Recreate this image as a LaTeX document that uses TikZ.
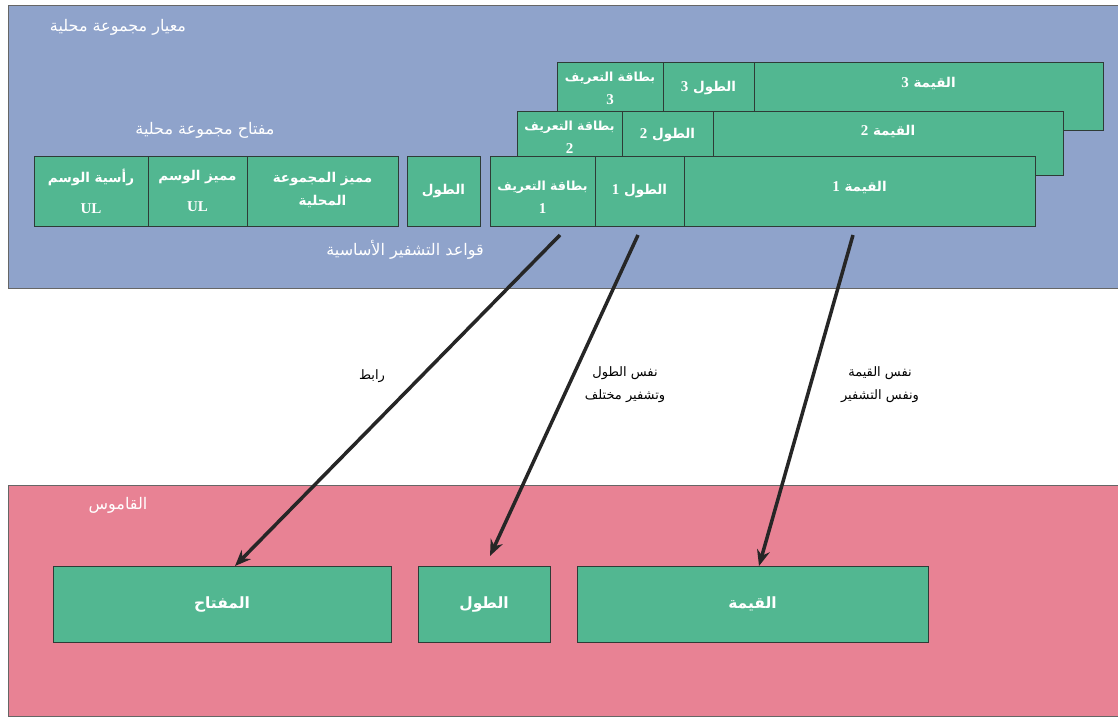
\documentclass[tikz,border=0pt]{standalone}
\usepackage{fontspec}
\setmainfont{Liberation Serif}
\newfontfamily\arabicfont[Script=Arabic]{DejaVu Sans}
\TeXXeTstate=1
\usetikzlibrary{arrows.meta}
\definecolor{bluebg}{HTML}{8FA3CB}
\definecolor{pinkbg}{HTML}{E88294}
\definecolor{cellgreen}{HTML}{52B791}
\definecolor{celledge}{HTML}{2E3B36}
\definecolor{arrowcol}{HTML}{262626}
\newcommand{\nm}[1]{{\rmfamily\bfseries\fontsize{15}{17}\selectfont #1}}
\tikzset{
  cell/.style={draw=celledge, line width=1pt, fill=cellgreen, anchor=north west,
    inner sep=0pt, outer sep=0pt},
  ctext/.style={text=white, inner sep=0pt, align=center, font=\arabicfont\bfseries\fontsize{13.5}{23}\selectfont},
  idtext/.style={ctext, font=\arabicfont\bfseries\fontsize{12.5}{23}\selectfont},
  ctextwide/.style={ctext, font=\arabicfont\bfseries\fontsize{13.5}{31}\selectfont},
  btext/.style={ctext, font=\arabicfont\bfseries\fontsize{15.5}{19}\selectfont},
  region/.style={draw=gray!80!black, line width=0.8pt, anchor=north west, inner sep=0pt, outer sep=0pt},
  wlabel/.style={text=white, font=\arabicfont\fontsize{16}{19}\selectfont, inner sep=0pt},
  blabel/.style={text=black, font=\arabicfont\fontsize{13}{23}\selectfont, align=center, inner sep=0pt},
  arr/.style={line width=3.5pt, draw=arrowcol, -{Stealth[length=16pt,width=13pt]}}
}
\begin{document}
\begin{tikzpicture}[x=1pt,y=-1pt]
\useasboundingbox[fill=white] (0,0) rectangle (1118,718);
% regions
\node[region, fill=bluebg, minimum width=1110pt, minimum height=283pt] (std) at (8,5) {};
\node[region, fill=pinkbg, minimum width=1110pt, minimum height=231pt] (dict) at (8,485) {};
% titles
\node[wlabel] (stdt) at (118,27) {\beginR معيار مجموعة محلية\endR};
\node[wlabel] (keyt) at (205,130) {\beginR مفتاح مجموعة محلية\endR};
\node[wlabel] (rules) at (405,250) {\beginR قواعد التشفير الأساسية\endR};
\node[wlabel] (dictt) at (118,505) {\beginR القاموس\endR};
% row 3
\node[cell, minimum width=106pt, minimum height=68pt,
  label={[idtext, yshift=8pt]center:{\beginR بطاقة التعريف\endR\\\nm{3}}}] (id3) at (557,62) {};
\node[cell, minimum width=91pt, minimum height=68pt,
  label={[ctext, yshift=8pt]center:{\beginR الطول \nm{3}\endR}}] (len3) at (663,62) {};
\node[cell, minimum width=349pt, minimum height=68pt,
  label={[ctext, yshift=13pt]center:{\beginR القيمة \nm{3}\endR}}] (val3) at (754,62) {};
% row 2
\node[cell, minimum width=105pt, minimum height=64pt,
  label={[idtext, yshift=6pt]center:{\beginR بطاقة التعريف\endR\\\nm{2}}}] (id2) at (517,111) {};
\node[cell, minimum width=91pt, minimum height=64pt,
  label={[ctext, yshift=8pt]center:{\beginR الطول \nm{2}\endR}}] (len2) at (622,111) {};
\node[cell, minimum width=350pt, minimum height=64pt,
  label={[ctext, yshift=12pt]center:{\beginR القيمة \nm{2}\endR}}] (val2) at (713,111) {};
% row 1
\node[cell, minimum width=114pt, minimum height=70pt,
  label={[ctextwide]center:{\beginR رأسية الوسم\endR\\\nm{UL}}}] (ulh) at (34,156) {};
\node[cell, minimum width=99pt, minimum height=70pt,
  label={[ctextwide]center:{\beginR مميز الوسم\endR\\\nm{UL}}}] (ulk) at (148,156) {};
\node[cell, minimum width=151pt, minimum height=70pt,
  label={[ctext, yshift=1pt]center:{\beginR مميز المجموعة\endR\\\beginR المحلية\endR}}] (lgk) at (247,156) {};
\node[cell, minimum width=73pt, minimum height=70pt,
  label={[ctext]center:{\beginR الطول\endR}}] (len) at (407,156) {};
\node[cell, minimum width=105pt, minimum height=70pt,
  label={[idtext, yshift=-6pt]center:{\beginR بطاقة التعريف\endR\\\nm{1}}}] (id1) at (490,156) {};
\node[cell, minimum width=89pt, minimum height=70pt,
  label={[ctext]center:{\beginR الطول \nm{1}\endR}}] (len1) at (595,156) {};
\node[cell, minimum width=351pt, minimum height=70pt,
  label={[ctext, yshift=4pt]center:{\beginR القيمة \nm{1}\endR}}] (val1) at (684,156) {};
% dictionary row
\node[cell, minimum width=338pt, minimum height=76pt,
  label={[btext]center:{\beginR المفتاح\endR}}] (dkey) at (53,566) {};
\node[cell, minimum width=132pt, minimum height=76pt,
  label={[btext]center:{\beginR الطول\endR}}] (dlen) at (418,566) {};
\node[cell, minimum width=351pt, minimum height=76pt,
  label={[btext]center:{\beginR القيمة\endR}}] (dval) at (577,566) {};
% arrow ends
\coordinate (a1s) at (560,235);
\coordinate (a1e) at (235,566);
\coordinate (a2s) at (638,235);
\coordinate (a2e) at (490,556);
\coordinate (a3s) at (853,235);
\coordinate (a3e) at (759,566);
\draw[arr] (a1s) -- (a1e);
\draw[arr] (a2s) -- (a2e);
\draw[arr] (a3s) -- (a3e);
% arrow labels
\node[blabel] (l1) at (372,376) {\beginR رابط\endR};
\node[blabel] (l2) at (625,385) {\beginR نفس الطول\endR\\\beginR وتشفير مختلف\endR};
\node[blabel] (l3) at (880,385) {\beginR نفس القيمة\endR\\\beginR ونفس التشفير\endR};
\end{tikzpicture}
\end{document}
